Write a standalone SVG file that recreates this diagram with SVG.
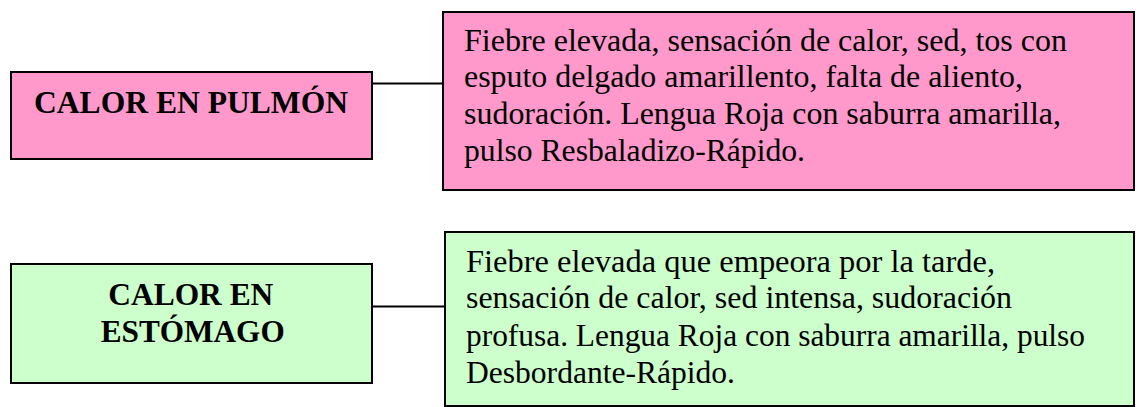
<svg xmlns="http://www.w3.org/2000/svg" width="1140" height="407" viewBox="0 0 1140 407">
<style>
.box{stroke:#000;stroke-width:2}
.pink{fill:#ff99cc}
.green{fill:#ccffcc}
.title{font-family:"Liberation Serif","Times New Roman",serif;font-weight:bold;font-size:32px;fill:#000}
.desc{font-family:"Liberation Serif","Times New Roman",serif;font-size:32px;fill:#000}
.conn{stroke:#000;stroke-width:2;fill:none}
</style>
<rect width="1140" height="407" fill="#fff"/>
<g id="connectors">
<line class="conn" x1="372" y1="83.5" x2="443" y2="83.5"/>
<line class="conn" x1="372" y1="306.5" x2="445" y2="306.5"/>
</g>
<g id="calor-pulmon">
<rect class="box pink" x="11" y="72" width="361" height="87"/>
<text class="title" x="34" y="113" textLength="314" lengthAdjust="spacingAndGlyphs">CALOR EN PULMÓN</text>
</g>
<g id="desc-pulmon">
<rect class="box pink" x="443" y="12" width="691" height="178"/>
<text class="desc" x="464" y="50.5" textLength="603" lengthAdjust="spacingAndGlyphs">Fiebre elevada, sensación de calor, sed, tos con</text>
<text class="desc" x="464" y="87.3" textLength="559" lengthAdjust="spacingAndGlyphs">esputo delgado amarillento, falta de aliento,</text>
<text class="desc" x="464" y="124" textLength="597" lengthAdjust="spacingAndGlyphs">sudoración. Lengua Roja con saburra amarilla,</text>
<text class="desc" x="464" y="161" textLength="341" lengthAdjust="spacingAndGlyphs">pulso Resbaladizo-Rápido.</text>
</g>
<g id="calor-estomago">
<rect class="box green" x="11" y="264" width="361" height="119"/>
<text class="title" x="108.3" y="305" textLength="165" lengthAdjust="spacingAndGlyphs">CALOR EN</text>
<text class="title" x="100.7" y="341.7" textLength="184" lengthAdjust="spacingAndGlyphs">ESTÓMAGO</text>
</g>
<g id="desc-estomago">
<rect class="box green" x="445" y="232" width="689" height="174"/>
<text class="desc" x="466" y="271.7" textLength="529" lengthAdjust="spacingAndGlyphs">Fiebre elevada que empeora por la tarde,</text>
<text class="desc" x="466" y="308.3" textLength="546" lengthAdjust="spacingAndGlyphs">sensación de calor, sed intensa, sudoración</text>
<text class="desc" x="466" y="346" textLength="619" lengthAdjust="spacingAndGlyphs">profusa. Lengua Roja con saburra amarilla, pulso</text>
<text class="desc" x="466" y="383.3" textLength="269" lengthAdjust="spacingAndGlyphs">Desbordante-Rápido.</text>
</g>
</svg>
